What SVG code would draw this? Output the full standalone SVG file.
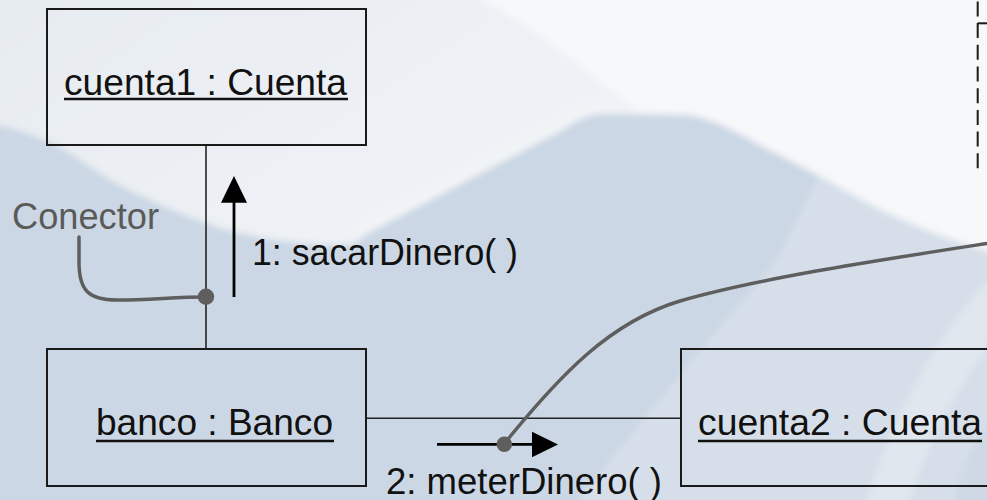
<svg xmlns="http://www.w3.org/2000/svg" width="987" height="500" viewBox="0 0 987 500">
  <defs>
    <style>
      .box { fill: none; stroke: #1a1a1a; stroke-width: 2; }
      .link { fill: none; stroke: #222; stroke-width: 1.6; }
      .name { font-family: "Liberation Sans", Arial, sans-serif; font-size: 36px; fill: #111; }
      .uline { stroke: #111; stroke-width: 2.6; }
      .msg { font-family: "Liberation Sans", Arial, sans-serif; font-size: 36px; fill: #111; }
      .msgline { stroke: #000; stroke-width: 2.8; fill: none; }
      .head { fill: #000; }
      .note { font-family: "Liberation Sans", Arial, sans-serif; font-size: 36px; fill: #5a5a5a; }
      .pointer { fill: none; stroke: #5e5e5e; stroke-width: 3.5; stroke-linecap: round; }
      .dot { fill: #5e5e5e; }
      .dash { fill: none; stroke: #1a1a1a; stroke-width: 2; }
    </style>
    <linearGradient id="lightGrad" x1="0" y1="0" x2="1" y2="0.4">
      <stop offset="0" stop-color="#e6ebf0"/>
      <stop offset="0.45" stop-color="#ecf0f4"/>
      <stop offset="1" stop-color="#f3f5f8"/>
    </linearGradient>
    <filter id="soft" x="-5%" y="-5%" width="110%" height="110%">
      <feGaussianBlur stdDeviation="3"/>
    </filter>
  </defs>

  <!-- slide background -->
  <g id="background" filter="url(#soft)">
    <rect x="-20" y="-20" width="1027" height="540" fill="#cbd7e4"/>
    <path fill="#d6dfe9" d="M820,175 C805,205 792,232 778,258 C745,300 680,370 564,520 L1010,520 L1010,250 Z"/>
    <path fill="#e0e7ee" d="M1010,258 L1010,320 C960,380 925,440 905,520 L862,520 C885,430 935,330 1010,258 Z"/>
    <path fill="#cfd9e5" d="M950,520 C955,470 975,430 1010,410 L1010,520 Z"/>
    <path fill="url(#lightGrad)" d="M-20,-20 H1010 V258 L954,240 C920,228 885,213 854,195 C820,176 790,160 760,145 C730,128 705,116 687,115 L600,114 C585,116 575,122 563,130 L367,234 C360,240 356,243 350,244 C320,246 270,242 220,228 C180,214 150,200 125,188 C95,172 70,150 45,140 C25,132 10,126 -20,122 Z"/>
    <path fill="none" stroke="#f2f4f7" stroke-width="10" d="M354,232 L560,122 C578,110 592,106 610,105"/>
    <path fill="#f6f8fa" d="M430,-20 H1010 V258 L954,240 C920,228 885,213 854,195 C820,176 790,160 760,145 C730,128 705,116 687,115 L640,112 C615,95 580,65 545,40 C510,15 480,0 450,-20 Z"/>
  </g>

  <!-- links between objects -->
  <g id="connectors">
    <line class="link" x1="206" y1="145" x2="206" y2="349"/>
    <line class="link" x1="366" y1="418.3" x2="681" y2="418.3"/>
  </g>

  <g id="cuenta1">
    <rect class="box" x="47" y="9" width="319" height="136"/>
    <text class="name" x="64" y="95" textLength="283" lengthAdjust="spacingAndGlyphs">cuenta1 : Cuenta</text>
    <line class="uline" x1="64" y1="99" x2="348" y2="99"/>
  </g>

  <g id="banco">
    <rect class="box" x="47" y="349" width="319" height="137"/>
    <text class="name" x="96" y="435" textLength="237" lengthAdjust="spacingAndGlyphs">banco : Banco</text>
    <line class="uline" x1="96" y1="441" x2="334" y2="441"/>
  </g>

  <g id="cuenta2">
    <rect class="box" x="681" y="349" width="330" height="137"/>
    <text class="name" x="698" y="435" textLength="284" lengthAdjust="spacingAndGlyphs">cuenta2 : Cuenta</text>
    <line class="uline" x1="698" y1="441" x2="982" y2="441"/>
  </g>

  <!-- message 1 -->
  <g id="msg1">
    <line class="msgline" x1="234" y1="297" x2="234" y2="200"/>
    <polygon class="head" points="234,176 247,202.7 221,202.7"/>
    <text class="msg" x="252" y="265" textLength="266" lengthAdjust="spacingAndGlyphs">1: sacarDinero( )</text>
  </g>

  <!-- message 2 -->
  <g id="msg2">
    <line class="msgline" x1="437" y1="444.4" x2="535" y2="444.4"/>
    <polygon class="head" points="558,444.4 532,431.7 532,457.2"/>
    <text class="msg" x="386" y="494" textLength="276" lengthAdjust="spacingAndGlyphs">2: meterDinero( )</text>
  </g>

  <!-- "Conector" callout -->
  <g id="conector-note">
    <text class="note" x="12" y="229" textLength="147" lengthAdjust="spacingAndGlyphs">Conector</text>
    <path class="pointer" d="M79,237 L79,262 C79,290 88,300 117,300 C150,300 175,297 206,297"/>
    <circle class="dot" cx="206" cy="296.8" r="8.2"/>
  </g>

  <!-- callout reaching the association line -->
  <g id="link-note">
    <path class="pointer" d="M504,444 C560,375 610,322 680,301 C760,278 880,260 990,243"/>
    <circle class="dot" cx="504.3" cy="444.3" r="7.8"/>
  </g>

  <!-- partly visible dashed frame on the right -->
  <g id="frame-right">
    <line class="dash" x1="977.7" y1="168.3" x2="977.7" y2="0" stroke-dasharray="15 6.7"/>
    <line class="dash" x1="977.7" y1="23.3" x2="990" y2="23.3"/>
  </g>
</svg>
